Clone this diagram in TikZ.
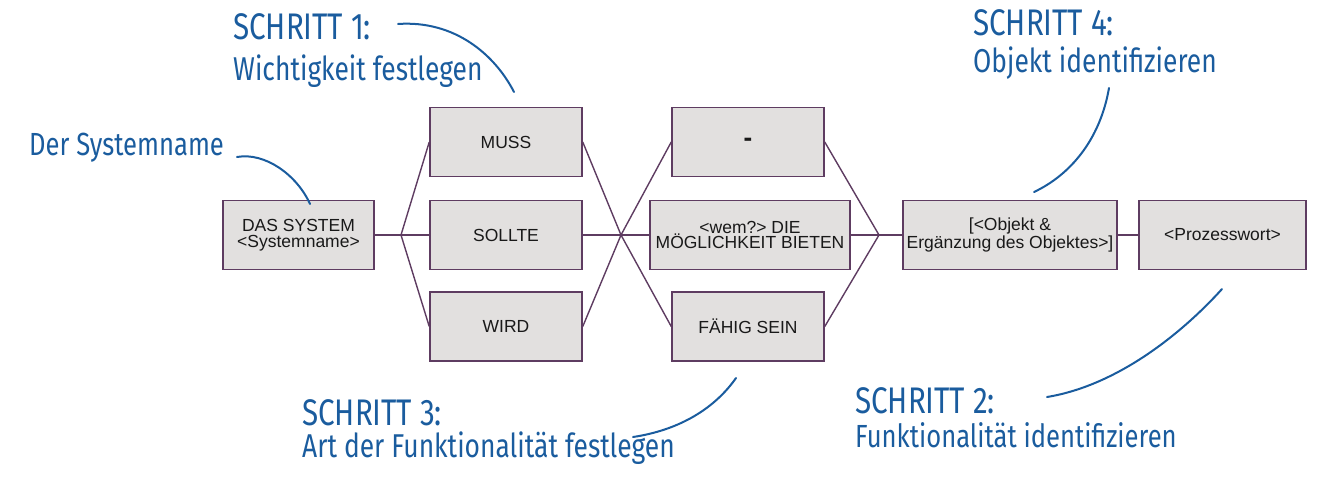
\documentclass[tikz,border=0pt]{standalone}
\usepackage{fontspec}
\setmainfont{Liberation Sans}
\newfontfamily\hand[FakeStretch=0.8]{Fira Sans}
\definecolor{boxfill}{HTML}{E2E0DF}
\definecolor{boxline}{HTML}{5E3C61}
\definecolor{handblue}{HTML}{1A5C9E}
\tikzset{
  stepbox/.style={draw=boxline, fill=boxfill, line width=1.5pt, minimum height=69pt, inner sep=2pt, align=center, font=\fontsize{17.5}{15.5}\selectfont, text=black!90},
  link/.style={draw=boxline, line width=1.4pt},
  handcap/.style={anchor=base west, inner sep=0pt, text=handblue, font=\hand\fontsize{37}{37}\selectfont},
  handtxt/.style={anchor=base west, inner sep=0pt, text=handblue, font=\hand\fontsize{33}{33}\selectfont},
  pointer/.style={draw=handblue, line width=2pt, line cap=round}
}
\begin{document}
\begin{tikzpicture}[x=1pt,y=-1pt]
\useasboundingbox (0,0) rectangle (1325,479);
% boxes
\node[stepbox, minimum width=151pt] (sys) at (298.5,235) {DAS SYSTEM\\<Systemname>};
\node[stepbox, minimum width=152pt] (muss) at (506,142) {MUSS};
\node[stepbox, minimum width=152pt] (sollte) at (506,235) {SOLLTE};
\node[stepbox, minimum width=152pt] (wird) at (506,326.5) {WIRD};
\node[stepbox, minimum width=152pt, font=\fontsize{26}{26}\selectfont\bfseries] (dash) at (748,142) {-};
\node[stepbox, minimum width=200pt] (moeg) at (750,235) {<wem?> DIE\\MÖGLICHKEIT BIETEN};
\node[stepbox, minimum width=152pt] (faehig) at (748,326.5) {FÄHIG SEIN};
\node[stepbox, minimum width=214pt] (obj) at (1010,235) {[<Objekt \&\\Ergänzung des Objektes>]};
\node[stepbox, minimum width=167pt] (proz) at (1222.5,235) {<Prozesswort>};
% junctions
\coordinate (jl) at (401,235);
\coordinate (jm) at (621,235);
\coordinate (jr) at (879,235);
% connectors
\draw[link] (sys.east) -- (jl);
\draw[link] (jl) -- (muss.west);
\draw[link] (jl) -- (sollte.west);
\draw[link] (jl) -- (wird.west);
\draw[link] (muss.east) -- (jm);
\draw[link] (wird.east) -- (jm);
\draw[link] (sollte.east) -- (moeg.west);
\draw[link] (jm) -- (dash.west);
\draw[link] (jm) -- (faehig.west);
\draw[link] (dash.east) -- (jr);
\draw[link] (moeg.east) -- (jr);
\draw[link] (faehig.east) -- (jr);
\draw[link] (jr) -- (obj.west);
\draw[link] (obj.east) -- (proz.west);
% annotations
\node[handcap] (s1) at (233,39) {SCHRITT 1:};
\node[handtxt] (s1t) at (233,80) {Wichtigkeit festlegen};
\node[handtxt, font=\hand\fontsize{32}{32}\selectfont] (sn) at (29,155) {Der Systemname};
\node[handcap] (s3) at (302,425) {SCHRITT 3:};
\node[handtxt] (s3t) at (302,457) {Art der Funktionalität festlegen};
\node[handcap] (s4) at (973,35) {SCHRITT 4:};
\node[handtxt] (s4t) at (973,72) {Objekt identifizieren};
\node[handcap] (s2) at (855,413) {SCHRITT 2:};
\node[handtxt, font=\hand\fontsize{32}{32}\selectfont] (s2t) at (855,447) {Funktionalität identifizieren};
% pointer ends
\coordinate (p1a) at (398,24);  \coordinate (p1b) at (514,92);
\coordinate (p2a) at (237,157); \coordinate (p2b) at (310,204);
\coordinate (p3a) at (633,437); \coordinate (p3b) at (736,378);
\coordinate (p4a) at (1109,88); \coordinate (p4b) at (1034,192);
\coordinate (p5a) at (1047,397);\coordinate (p5b) at (1222,289);
\draw[pointer] (p1a) .. controls (455,20) and (495,55) .. (p1b);
\draw[pointer] (p2a) .. controls (265,152) and (297,175) .. (p2b);
\draw[pointer] (p3a) .. controls (680,430) and (715,408) .. (p3b);
\draw[pointer] (p4a) .. controls (1100,140) and (1070,175) .. (p4b);
\draw[pointer] (p5a) .. controls (1120,385) and (1185,330) .. (p5b);
\end{tikzpicture}
\end{document}
